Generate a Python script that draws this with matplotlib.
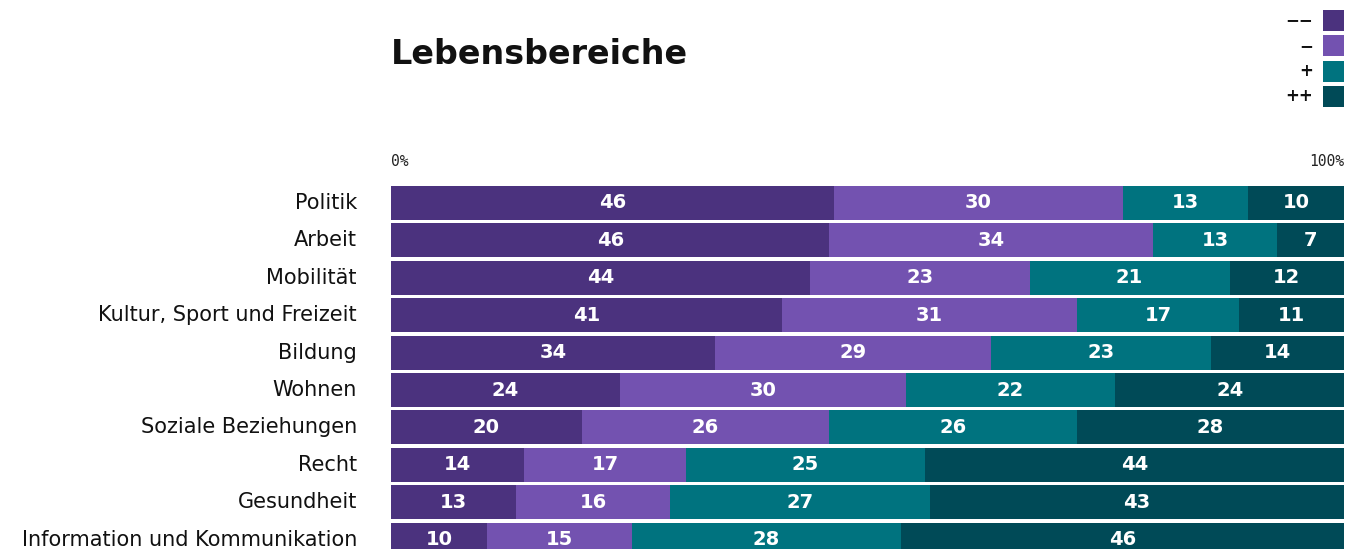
import matplotlib.pyplot as plt
from matplotlib.patches import Rectangle

# Daten
categories = ["Politik", "Arbeit", "Mobilität", "Kultur, Sport und Freizeit", "Bildung",
              "Wohnen", "Soziale Beziehungen", "Recht", "Gesundheit",
              "Information und Kommunikation"]
very_neg = [46, 46, 44, 41, 34, 24, 20, 14, 13, 10]
neg = [30, 34, 23, 31, 29, 30, 26, 17, 16, 15]
pos = [13, 13, 21, 17, 23, 22, 26, 25, 27, 28]
very_pos = [10, 7, 12, 11, 14, 24, 28, 44, 43, 46]
legend_labels = ["−−", "−", "+", "++"]
colors = ["#4b327e", "#7352b0", "#00737f", "#004a57"]

W, H = 1357, 549
fig = plt.figure(figsize=(W / 100, H / 100), dpi=100)

# Achse: x 391..1344 px, y 185..549 px
ax = fig.add_axes([391 / W, 0, (1344 - 391) / W, (549 - 185) / H])
pitch = 37.4
ax.set_xlim(0, 100)
ax.set_ylim((549 - 203) / pitch, -18 / pitch)
ax.axis("off")

series = [very_neg, neg, pos, very_pos]
for i, cat in enumerate(categories):
    total = sum(s[i] for s in series)
    left = 0
    for s, c in zip(series, colors):
        w = s[i] / total * 100
        ax.barh(i, w, left=left, height=0.91, color=c, linewidth=0)
        ax.text(left + w / 2, i, str(s[i]), ha="center", va="center",
                color="white", fontsize=14, fontweight="heavy", clip_on=True)
        left += w
    ax.text(-34 / 953 * 100, i, cat, ha="right", va="center", fontsize=15,
            color="#111111", clip_on=False)

# Titel
fig.text(391 / W, 1 - 54 / H, "Lebensbereiche", ha="left", va="center",
         fontsize=24, fontweight="heavy", color="#111111")

# Achsenbeschriftung 0% / 100%
fig.text(391 / W, 1 - 162 / H, "0%", ha="left", va="center", fontsize=10.5,
         family="DejaVu Sans Mono", color="#222222")
fig.text(1344 / W, 1 - 162 / H, "100%", ha="right", va="center", fontsize=10.5,
         family="DejaVu Sans Mono", color="#222222")

# Legende
for k, (lab, c) in enumerate(zip(legend_labels, colors)):
    top = 10 + k * 25.3
    fig.patches.append(Rectangle((1323 / W, 1 - (top + 21) / H), 21 / W, 21 / H,
                                 transform=fig.transFigure, color=c, linewidth=0))
    fig.text(1313 / W, 1 - (top + 10.5) / H, lab, ha="right", va="center",
             fontsize=12, fontweight="bold", color="#111111")

fig.savefig("out.png", dpi=100)
